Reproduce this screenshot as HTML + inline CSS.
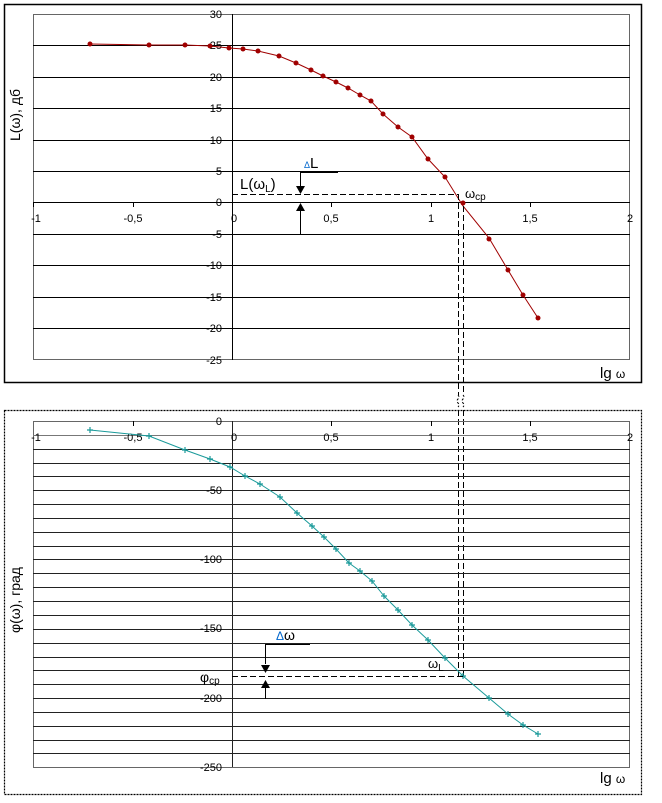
<!DOCTYPE html>
<html><head><meta charset="utf-8"><style>
html,body{margin:0;padding:0;background:#fff;}
svg{display:block;font-family:"Liberation Sans",Arial,sans-serif;}
</style></head><body>
<svg width="662" height="803" viewBox="0 0 662 803" xmlns="http://www.w3.org/2000/svg">
<rect x="0" y="0" width="662" height="803" fill="#fff"/>
<!-- top box -->
<rect x="4.5" y="4.5" width="637" height="378" fill="none" stroke="#000" stroke-width="1.5"/>
<rect x="33.5" y="14.5" width="596" height="345" fill="none" stroke="#666" stroke-width="1"/>
<g stroke="#000" stroke-width="1">
<line x1="33" y1="45.5" x2="630" y2="45.5"/>
<line x1="33" y1="77.5" x2="630" y2="77.5"/>
<line x1="33" y1="108.5" x2="630" y2="108.5"/>
<line x1="33" y1="140.5" x2="630" y2="140.5"/>
<line x1="33" y1="171.5" x2="630" y2="171.5"/>
<line x1="33" y1="202.5" x2="630" y2="202.5"/>
<line x1="33" y1="234.5" x2="630" y2="234.5"/>
<line x1="33" y1="265.5" x2="630" y2="265.5"/>
<line x1="33" y1="297.5" x2="630" y2="297.5"/>
<line x1="33" y1="328.5" x2="630" y2="328.5"/>
<line x1="232.5" y1="14" x2="232.5" y2="360"/>
</g>
<g stroke="#000" stroke-width="1">
<line x1="33.5" y1="202" x2="33.5" y2="207"/><line x1="133.5" y1="202" x2="133.5" y2="207"/>
<line x1="331.5" y1="202" x2="331.5" y2="207"/><line x1="431.5" y1="202" x2="431.5" y2="207"/>
<line x1="530.5" y1="202" x2="530.5" y2="207"/>
</g>
<g font-size="11" fill="#000" text-anchor="end">
<text x="222" y="18">30</text><text x="222" y="49">25</text><text x="222" y="81">20</text>
<text x="222" y="112">15</text><text x="222" y="144">10</text><text x="222" y="175">5</text>
<text x="222" y="206">0</text><text x="222" y="238">-5</text><text x="222" y="269">-10</text>
<text x="222" y="301">-15</text><text x="222" y="332">-20</text><text x="222" y="364">-25</text>
</g>
<g font-size="11" fill="#000" text-anchor="middle">
<text x="36" y="222">-1</text><text x="133" y="222">-0,5</text><text x="234" y="222">0</text>
<text x="331" y="222">0,5</text><text x="431" y="222">1</text><text x="530" y="222">1,5</text><text x="630" y="222">2</text>
</g>
<text x="600" y="378" font-size="15">lg <tspan font-size="12">ω</tspan></text>
<text transform="translate(20,115) rotate(-90)" font-size="14" text-anchor="middle">L(ω), дб</text>
<polyline fill="none" stroke="#a00000" stroke-width="1" points="90,44 149,45 185,45 210,46 229,48 243,49 258,51 279,56 296,63 311,70 323,76 336,82 348,88 360,95 371,101 383,114 398,127 412,137 428,159 445,177 463,206 489,238 508,270 523,295 538,318"/>
<g fill="#a00000">
<circle cx="90" cy="44" r="2.5"/><circle cx="149" cy="45" r="2.5"/><circle cx="185" cy="45" r="2.5"/><circle cx="210" cy="46" r="2.5"/><circle cx="229" cy="48" r="2.5"/><circle cx="243" cy="49" r="2.5"/><circle cx="258" cy="51" r="2.5"/><circle cx="279" cy="56" r="2.5"/><circle cx="296" cy="63" r="2.5"/><circle cx="311" cy="70" r="2.5"/><circle cx="323" cy="76" r="2.5"/><circle cx="336" cy="82" r="2.5"/><circle cx="348" cy="88" r="2.5"/><circle cx="360" cy="95" r="2.5"/><circle cx="371" cy="101" r="2.5"/><circle cx="383" cy="114" r="2.5"/><circle cx="398" cy="127" r="2.5"/><circle cx="412" cy="137" r="2.5"/><circle cx="428" cy="159" r="2.5"/><circle cx="445" cy="177" r="2.5"/><circle cx="463" cy="203" r="2.5"/><circle cx="489" cy="239" r="2.5"/><circle cx="508" cy="270" r="2.5"/><circle cx="523" cy="295" r="2.5"/><circle cx="538" cy="318" r="2.5"/>
</g>
<!-- annotations top -->
<g stroke="#000" stroke-width="1" fill="none">
<line x1="232" y1="194.5" x2="458" y2="194.5" stroke-dasharray="6,3"/>
<line x1="458.5" y1="194" x2="458.5" y2="395" stroke-dasharray="6,3"/>
<line x1="463.5" y1="206" x2="463.5" y2="395" stroke-dasharray="6,3"/>
<line x1="458.5" y1="410" x2="458.5" y2="676" stroke-dasharray="6,3"/>
<line x1="463.5" y1="410" x2="463.5" y2="676" stroke-dasharray="6,3"/>
<path d="M458,395 q2,2 0,4 q-2,2 0,4 q2,2 0,4" stroke-dasharray="2,2"/>
<path d="M463,395 q2,2 0,4 q-2,2 0,4 q2,2 0,4" stroke-dasharray="2,2"/>
<line x1="300" y1="172.5" x2="338" y2="172.5"/>
<line x1="300.5" y1="172" x2="300.5" y2="190"/>
<line x1="300.5" y1="210" x2="300.5" y2="234"/>
</g>
<polygon points="296,186 305,186 300.5,194" fill="#000"/>
<polygon points="296,211 305,211 300.5,203" fill="#000"/>
<text x="304" y="168" font-size="15"><tspan font-size="9" fill="#06c">Δ</tspan>L</text>
<text x="240" y="189" font-size="15">L(ω<tspan font-size="10" dy="3">L</tspan><tspan dy="-3">)</tspan></text>
<text x="465" y="198" font-size="13">ω<tspan font-size="10" dy="2">ср</tspan></text>

<!-- bottom box -->
<rect x="4.5" y="410.5" width="637" height="384" fill="none" stroke="#000" stroke-width="1.2" stroke-dasharray="2,1"/>
<rect x="33.5" y="421.5" width="596" height="346" fill="none" stroke="#666" stroke-width="1"/>
<g stroke="#222" stroke-width="1">
<line x1="33" y1="435.5" x2="630" y2="435.5" stroke="#777"/>
<line x1="33" y1="449.5" x2="630" y2="449.5"/>
<line x1="33" y1="463.5" x2="630" y2="463.5"/>
<line x1="33" y1="476.5" x2="630" y2="476.5"/>
<line x1="33" y1="490.5" x2="630" y2="490.5"/>
<line x1="33" y1="504.5" x2="630" y2="504.5"/>
<line x1="33" y1="518.5" x2="630" y2="518.5"/>
<line x1="33" y1="532.5" x2="630" y2="532.5"/>
<line x1="33" y1="546.5" x2="630" y2="546.5"/>
<line x1="33" y1="559.5" x2="630" y2="559.5"/>
<line x1="33" y1="573.5" x2="630" y2="573.5"/>
<line x1="33" y1="587.5" x2="630" y2="587.5"/>
<line x1="33" y1="601.5" x2="630" y2="601.5"/>
<line x1="33" y1="615.5" x2="630" y2="615.5"/>
<line x1="33" y1="629.5" x2="630" y2="629.5"/>
<line x1="33" y1="643.5" x2="630" y2="643.5"/>
<line x1="33" y1="657.5" x2="630" y2="657.5"/>
<line x1="33" y1="670.5" x2="630" y2="670.5"/>
<line x1="33" y1="684.5" x2="630" y2="684.5"/>
<line x1="33" y1="698.5" x2="630" y2="698.5"/>
<line x1="33" y1="712.5" x2="630" y2="712.5"/>
<line x1="33" y1="726.5" x2="630" y2="726.5"/>
<line x1="33" y1="740.5" x2="630" y2="740.5"/>
<line x1="33" y1="753.5" x2="630" y2="753.5"/>
<line x1="232.5" y1="421" x2="232.5" y2="767"/>
</g>
<g stroke="#000"><line x1="133.5" y1="421" x2="133.5" y2="426"/><line x1="331.5" y1="421" x2="331.5" y2="426"/><line x1="431.5" y1="421" x2="431.5" y2="426"/><line x1="530.5" y1="421" x2="530.5" y2="426"/></g>
<g font-size="11" fill="#000" text-anchor="middle">
<text x="36" y="441">-1</text><text x="133" y="441">-0,5</text><text x="234" y="441">0</text>
<text x="331" y="441">0,5</text><text x="431" y="441">1</text><text x="530" y="441">1,5</text><text x="630" y="441">2</text>
</g>
<g font-size="11" fill="#000" text-anchor="end">
<text x="222" y="425">0</text><text x="222" y="494">-50</text><text x="222" y="563">-100</text>
<text x="222" y="632">-150</text><text x="222" y="702">-200</text><text x="222" y="771">-250</text>
</g>
<text x="600" y="783" font-size="15">lg <tspan font-size="12">ω</tspan></text>
<text transform="translate(20,600) rotate(-90)" font-size="14" text-anchor="middle">φ(ω), град</text>
<polyline fill="none" stroke="#1a9a9a" stroke-width="1" points="90,430 149,436 185,450 210,459 230,467 245,476 260,484 280,497 297,513 312,526 324,537 336,549 349,563 360,571 372,581 384,596 398,610 412,625 428,640 445,658 463,676 489,698 508,714 523,725 538,734"/>
<g stroke="#1a9a9a" stroke-width="1.2">
<path d="M87,430h6M90,427v6 M146,436h6M149,433v6 M182,450h6M185,447v6 M207,459h6M210,456v6 M227,467h6M230,464v6 M242,476h6M245,473v6 M257,484h6M260,481v6 M277,497h6M280,494v6 M294,513h6M297,510v6 M309,526h6M312,523v6 M321,537h6M324,534v6 M333,549h6M336,546v6 M346,563h6M349,560v6 M357,571h6M360,568v6 M369,581h6M372,578v6 M381,596h6M384,593v6 M395,610h6M398,607v6 M409,625h6M412,622v6 M425,640h6M428,637v6 M442,658h6M445,655v6 M460,676h6M463,673v6 M486,698h6M489,695v6 M505,714h6M508,711v6 M520,725h6M523,722v6 M535,734h6M538,731v6"/>
</g>
<g stroke="#000" stroke-width="1" fill="none">
<line x1="232" y1="676.5" x2="463" y2="676.5" stroke-dasharray="6,3"/>
<line x1="265" y1="644.5" x2="310" y2="644.5"/>
<line x1="265.5" y1="644" x2="265.5" y2="664"/>
<line x1="265.5" y1="688" x2="265.5" y2="699"/>
</g>
<polygon points="261,665 270,665 265.5,673" fill="#000"/>
<polygon points="261,688 270,688 265.5,680" fill="#000"/>
<text x="276" y="640" font-size="14"><tspan fill="#06c" font-size="12">Δ</tspan>ω</text>
<text x="428" y="668" font-size="13">ω<tspan font-size="10" dy="3">L</tspan></text>
<text x="200" y="682" font-size="14">φ<tspan font-size="10" dy="2">ср</tspan></text>
</svg>
</body></html>
